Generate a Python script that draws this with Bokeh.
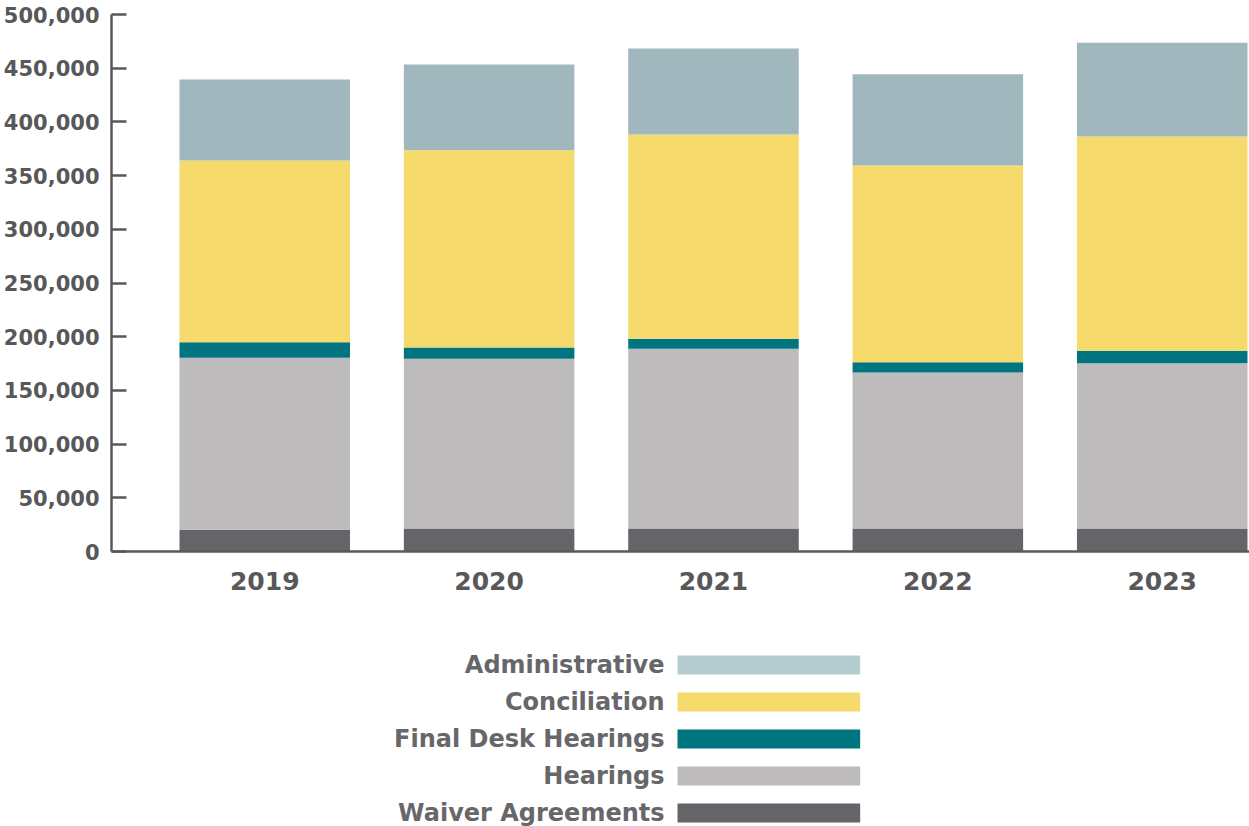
from bokeh.plotting import figure
from bokeh.models import ColumnDataSource, Range1d, FixedTicker, NumeralTickFormatter, CustomJSTickFormatter
from bokeh.layouts import column
from bokeh.core.properties import value
from bokeh.embed import file_html
from bokeh.resources import INLINE

years = [2019, 2020, 2021, 2022, 2023]
waiver = [20200, 21400, 21400, 21400, 21400]
hearings = [160200, 158000, 167300, 145300, 153900]
final_desk = [14500, 10600, 9300, 9600, 11600]
conciliation = [169200, 183700, 190300, 183100, 199500]
administrative = [75400, 79700, 80000, 85000, 87200]

series = ["Waiver Agreements", "Hearings", "Final Desk Hearings", "Conciliation", "Administrative"]
keys = ["waiver", "hearings", "final_desk", "conciliation", "administrative"]
bar_colors = ["#656569", "#BDBBBC", "#00757F", "#F6DB6C", "#9FB7BD"]
legend_colors = ["#656569", "#BDBBBC", "#00757F", "#F6DB6C", "#B6CDCF"]
y_ticks = [0, 50000, 100000, 150000, 200000, 250000, 300000, 350000, 400000, 450000, 500000]

FONT = "DejaVu Sans"
TXT = "#58585A"
AX = "#58585A"

src = ColumnDataSource(dict(years=years, waiver=waiver, hearings=hearings,
                            final_desk=final_desk, conciliation=conciliation,
                            administrative=administrative))

W = 1249
LEFT = 109
p = figure(width=W, height=620, output_backend="svg", toolbar_location=None,
           x_range=Range1d(2018.317, 2023.389), y_range=Range1d(0, 500000),
           min_border_left=LEFT, min_border_right=0, min_border_top=14, min_border_bottom=69)
p.vbar_stack(keys, x="years", width=0.76, color=bar_colors, source=src, line_width=0)

p.grid.visible = False
p.outline_line_color = None

p.yaxis.ticker = FixedTicker(ticks=y_ticks)
p.yaxis.formatter = NumeralTickFormatter(format="0,0")
p.yaxis.major_tick_in = 15
p.yaxis.major_tick_out = 0
p.yaxis.minor_tick_line_color = None
p.yaxis.major_tick_line_width = 2.5
p.yaxis.major_tick_line_color = AX
p.yaxis.axis_line_width = 2.5
p.yaxis.axis_line_color = AX
p.yaxis.major_label_standoff = 12
p.yaxis.major_label_text_font = FONT
p.yaxis.major_label_text_font_style = "bold"
p.yaxis.major_label_text_font_size = "21px"
p.yaxis.major_label_text_color = TXT

p.xaxis.ticker = FixedTicker(ticks=years)
p.xaxis.formatter = CustomJSTickFormatter(code="return String(tick);")
p.xaxis.major_tick_in = 0
p.xaxis.major_tick_out = 0
p.xaxis.minor_tick_line_color = None
p.xaxis.axis_line_width = 2.5
p.xaxis.axis_line_color = AX
p.xaxis.major_label_standoff = 20
p.xaxis.major_label_text_font = FONT
p.xaxis.major_label_text_font_style = "bold"
p.xaxis.major_label_text_font_size = "25px"
p.xaxis.major_label_text_color = TXT

# Legend (manual: labels to the left of wide swatches), top row first.
# Its frame is aligned with the main frame, so x is in page pixels from LEFT to W.
LH = 206
lg = figure(width=W, height=LH, output_backend="svg", toolbar_location=None,
            x_range=Range1d(LEFT, W), y_range=Range1d(LH, 0),
            min_border_left=LEFT, min_border_right=0, min_border_top=0, min_border_bottom=0)
lg.axis.visible = False
lg.grid.visible = False
lg.outline_line_color = None

order = list(range(len(series)))[::-1]
row_y = [44.5 + 37 * i for i in range(len(order))]
lsrc = ColumnDataSource(dict(
    y=row_y,
    label=[series[k] for k in order],
    color=[legend_colors[k] for k in order],
    sx=[767.5] * len(order),
    tx=[663] * len(order),
))
lg.rect(x="sx", y="y", width=183, height=19, fill_color="color", line_color=None, source=lsrc)
lg.text(x="tx", y="y", text="label", text_align="right", text_baseline="middle",
        text_font=value(FONT), text_font_style="bold", text_font_size="24px",
        text_color="#67676B", source=lsrc)

layout = column(p, lg, spacing=0)
open("out.html", "w").write(file_html(layout, INLINE))
